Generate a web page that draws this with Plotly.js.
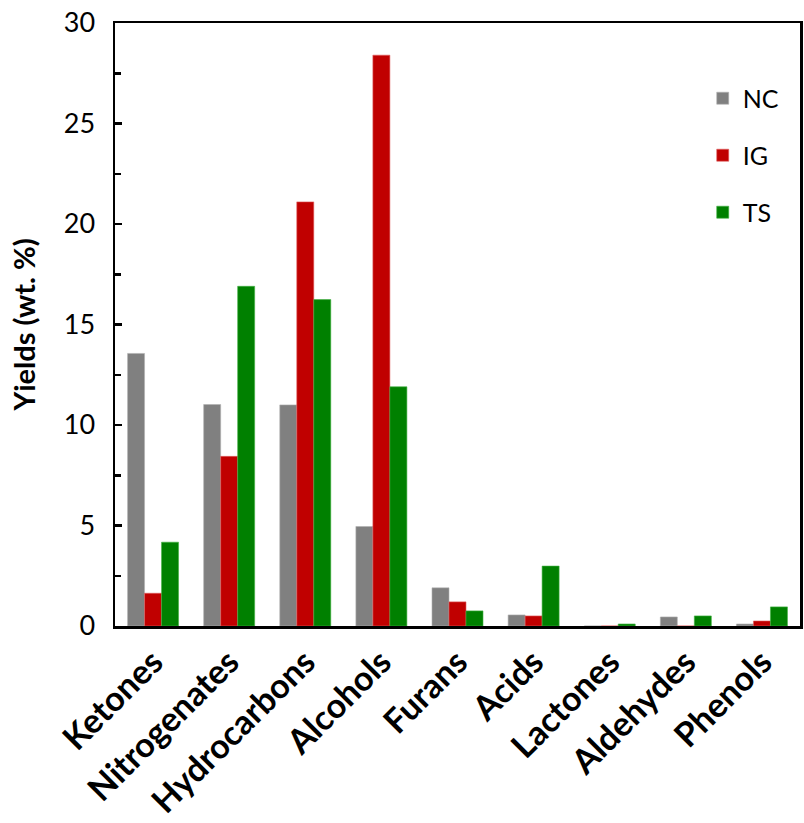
<!DOCTYPE html>
<html>
<head>
<meta charset="utf-8">
<script src="https://cdn.plot.ly/plotly-3.0.1.min.js"></script>
<style>html,body{margin:0;padding:0;background:#fff;}#chart{width:804px;height:823px;}</style>
</head>
<body>
<div id="chart"></div>
<script>
const categories = ["Ketones","Nitrogenates","Hydrocarbons","Alcohols","Furans","Acids","Lactones","Aldehydes","Phenols"];
const NC = [13.56, 11.02, 11.0, 4.95, 1.9, 0.55, 0, 0.45, 0.1];
const IG = [1.63, 8.44, 21.1, 28.4, 1.2, 0.5, 0, 0, 0.25];
const TS = [4.17, 16.9, 16.24, 11.9, 0.75, 2.98, 0.1, 0.5, 0.95];
const seriesNames = ["NC","IG","TS"];
const colors = ["#808080","#C00000","#008000"];
const edge = ["#b0b0b0","#e06060","#40b040"];
const FONT = "Lato, 'Open Sans', sans-serif";

const data = [NC, IG, TS].map((vals, i) => ({
  type: "bar",
  x: categories,
  y: vals,
  name: seriesNames[i],
  legendgroup: seriesNames[i],
  marker: {color: colors[i], line: {color: edge[i], width: 0.6}}
}));

const layout = {
  width: 804, height: 823,
  margin: {l: 115, r: 4, t: 23, b: 197},
  paper_bgcolor: "#fff", plot_bgcolor: "#fff",
  barmode: "group", bargap: 0.33, bargroupgap: 0,
  font: {family: FONT, color: "#000", size: 20},
  showlegend: true,
  legend: {x: 0.858, xanchor: "left", y: 0.913, yanchor: "top",
    font: {family: FONT, size: 25, color: "#000"},
    traceorder: "grouped", tracegroupgap: 21.5, bgcolor: "rgba(0,0,0,0)"},
  xaxis: {
    type: "category", tickangle: -45, showgrid: false, zeroline: false,
    showline: true, linecolor: "#000", linewidth: 2.5, mirror: true, ticks: "",
    tickfont: {family: FONT, size: 34, color: "#000", weight: "bold"},
    automargin: false
  },
  yaxis: {
    range: [0, 30], dtick: 5, showgrid: false, zeroline: false,
    showline: true, linecolor: "#000", linewidth: 2.5, mirror: true,
    ticks: "inside", ticklen: 7, tickwidth: 2.5, tickcolor: "#000",
    minor: {dtick: 2.5, ticks: "inside", ticklen: 6, tickwidth: 2.5, tickcolor: "#000"},
    tickfont: {family: FONT, size: 27, color: "#000"},
    ticklabelstandoff: 12,
    title: {text: "Yields (wt. %)", font: {family: FONT, size: 29, color: "#000", weight: "bold"}, standoff: 20},
    automargin: false
  }
};
Plotly.newPlot("chart", data, layout, {displayModeBar: false, staticPlot: true});
</script>
</body>
</html>
